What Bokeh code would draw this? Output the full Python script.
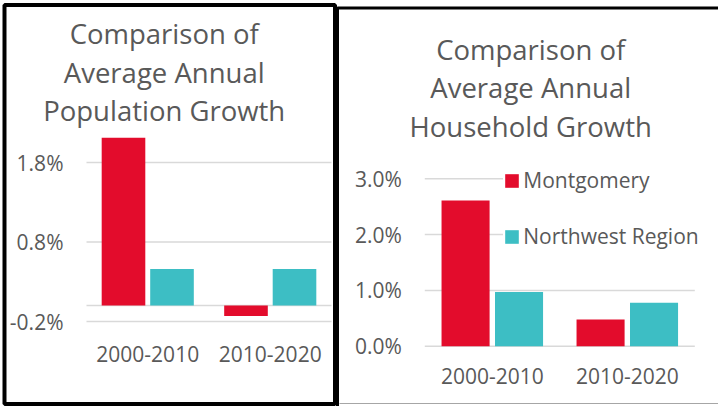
from bokeh.plotting import figure
from bokeh.models import (ColumnDataSource, Range1d, FixedTicker, LinearAxis,
                          NumeralTickFormatter, Label, BoxAnnotation,
                          Legend, LegendItem)
from bokeh.transform import dodge
from bokeh.embed import file_html
from bokeh.resources import INLINE

# ---------------- data ----------------
periods = ["2000-2010", "2010-2020"]
series_names = ["Montgomery", "Northwest Region"]
pop_montgomery = [0.0211, -0.0013]
pop_northwest = [0.0046, 0.0046]
hh_montgomery = [0.0261, 0.0048]
hh_northwest = [0.0097, 0.0078]
pop_ticks = [-0.002, 0.008, 0.018]
hh_ticks = [0.0, 0.01, 0.02, 0.03]
pop_title = ["Comparison of", "Average Annual", "Population Growth"]
hh_title = ["Comparison of", "Average Annual", "Household Growth"]

# ---------------- style / layout ----------------
RED = "#E30C2C"
TEAL = "#3DBEC4"
TXT = "#595959"
GRID = "#D9D9D9"
FONT = "Open Sans"
W, H = 718, 406
OFF = 0.198
BW = 0.356
N = len(periods)
centers = list(range(N))

# pixel anchors of each chart's plot area
L_X0, L_X1, L_Y_LO, L_Y_HI = 86.0, 331.0, 321.0, 162.0
R_X0, R_X1, R_Y_LO, R_Y_HI = 424.3, 694.3, 345.7, 178.3


def mapper(x0, x1, ylo, yhi, ticks):
    ux = (x1 - x0) / N
    uy = (ylo - yhi) / (ticks[-1] - ticks[0])
    fx = lambda px: -0.5 + (px - x0) / ux
    fy = lambda py: ticks[0] + (ylo - py) / uy
    return fx, fy


lx, ly = mapper(L_X0, L_X1, L_Y_LO, L_Y_HI, pop_ticks)
hx, hy = mapper(R_X0, R_X1, R_Y_LO, R_Y_HI, hh_ticks)

p = figure(width=W, height=H, x_range=Range1d(lx(0), lx(W)),
           y_range=Range1d(ly(H), ly(0)), x_axis_location=None,
           y_axis_location=None, min_border=0, output_backend="svg",
           toolbar_location=None, tools="")
p.extra_x_ranges = {"hx": Range1d(hx(0), hx(W))}
p.extra_y_ranges = {"hy": Range1d(hy(H), hy(0))}
p.outline_line_color = None
p.background_fill_color = "white"
p.border_fill_color = "white"
p.grid.visible = False

TITLE_SHIFT = 9.5


def chart(mont, nw, ticks, fx, fy, xr, yr, stand_x, title_lines, title_cx,
          title_base, zero_line):
    kw = {} if xr is None else dict(x_range_name=xr, y_range_name=yr)
    gticks = list(ticks) + ([0.0] if zero_line else [])
    gsrc = ColumnDataSource(dict(y=gticks))
    p.segment(x0=-0.5, x1=N - 0.5, y0="y", y1="y", source=gsrc,
              line_color=GRID, line_width=1.5, **kw)
    src = ColumnDataSource(dict(xc=centers, mont=mont, nw=nw))
    r1 = p.vbar(x=dodge("xc", -OFF), top="mont", width=BW, source=src,
                fill_color=RED, line_color=None, **kw)
    r2 = p.vbar(x=dodge("xc", OFF), top="nw", width=BW, source=src,
                fill_color=TEAL, line_color=None, **kw)

    ya = LinearAxis(fixed_location=-0.5, ticker=FixedTicker(ticks=ticks),
                    formatter=NumeralTickFormatter(format="0.0%"), **kw)
    xa = LinearAxis(fixed_location=ticks[0], ticker=FixedTicker(ticks=centers),
                    major_label_overrides={c: t for c, t in zip(centers, periods)},
                    **kw)
    for ax in (xa, ya):
        ax.axis_line_color = None
        ax.major_tick_line_color = None
        ax.minor_tick_line_color = None
        ax.major_tick_out = 0
        ax.major_tick_in = 0
        ax.major_label_text_font = FONT
        ax.major_label_text_font_size = "21px"
        ax.major_label_text_color = TXT
    ya.major_label_standoff = 23
    xa.major_label_standoff = stand_x
    p.add_layout(ya, "left")
    p.add_layout(xa, "below")

    for t, b in zip(title_lines, title_base):
        p.add_layout(Label(x=fx(title_cx), y=fy(b - TITLE_SHIFT), text=t,
                           text_align="center", text_baseline="alphabetic",
                           text_font=FONT, text_font_size="27.5px",
                           text_color=TXT, **kw))
    return r1, r2


chart(pop_montgomery, pop_northwest, pop_ticks, lx, ly, None, None, 24,
      pop_title, 163.7, [42.7, 81.7, 119.3], True)
hr1, hr2 = chart(hh_montgomery, hh_northwest, hh_ticks, hx, hy, "hx", "hy",
                 22, hh_title, 530.2, [58.3, 96.7, 135.0], False)

# panel borders
p.add_layout(BoxAnnotation(left=lx(4), right=lx(334.5), top=ly(4.5),
                           bottom=ly(403.5), fill_color=None,
                           line_color="black", line_alpha=1, line_width=4))
p.add_layout(BoxAnnotation(left=hx(337), right=hx(W + 30), top=hy(7.5),
                           bottom=hy(H + 30), x_range_name="hx",
                           y_range_name="hy", fill_color=None,
                           line_color="black", line_alpha=1, line_width=3))
p.add_layout(BoxAnnotation(left=hx(339), right=hx(W), top=hy(402.5),
                           bottom=hy(403.5), x_range_name="hx",
                           y_range_name="hy", fill_color="#A6A6A6",
                           fill_alpha=1, line_color=None))

legend = Legend(items=[LegendItem(label=series_names[0], renderers=[hr1]),
                       LegendItem(label=series_names[1], renderers=[hr2])],
                location=(503.3, 156.0), orientation="vertical",
                label_text_font=FONT, label_text_font_size="21px",
                label_text_color=TXT, glyph_width=17, glyph_height=17,
                label_standoff=3, spacing=28, padding=12, margin=0,
                border_line_color=None, background_fill_color="white",
                background_fill_alpha=1)
p.add_layout(legend)

open("out.html", "w").write(file_html(p, INLINE))
